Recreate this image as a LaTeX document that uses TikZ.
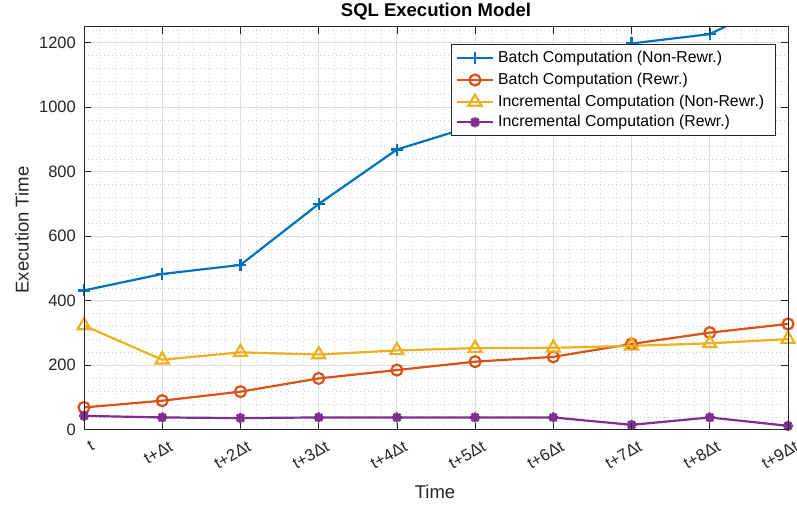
\documentclass[tikz,border=0pt]{standalone}
\usepackage{fontspec}
\setmainfont{Liberation Sans}
\usetikzlibrary{plotmarks}

\definecolor{cblue}{rgb}{0,0.447,0.741}
\definecolor{corange}{rgb}{0.85,0.325,0.098}
\definecolor{cyellow}{rgb}{0.929,0.694,0.125}
\definecolor{cpurple}{rgb}{0.494,0.184,0.556}
\definecolor{axcol}{rgb}{0.15,0.15,0.15}
\definecolor{gridmajor}{HTML}{DEDEDE}
\definecolor{gridminor}{HTML}{D2D2D2}

% eight-spoke asterisk
\pgfdeclareplotmark{ast8}{%
  \pgfpathmoveto{\pgfqpoint{-\pgfplotmarksize}{0pt}}%
  \pgfpathlineto{\pgfqpoint{\pgfplotmarksize}{0pt}}%
  \pgfpathmoveto{\pgfqpoint{0pt}{-\pgfplotmarksize}}%
  \pgfpathlineto{\pgfqpoint{0pt}{\pgfplotmarksize}}%
  \pgfpathmoveto{\pgfqpoint{-0.707\pgfplotmarksize}{-0.707\pgfplotmarksize}}%
  \pgfpathlineto{\pgfqpoint{0.707\pgfplotmarksize}{0.707\pgfplotmarksize}}%
  \pgfpathmoveto{\pgfqpoint{-0.707\pgfplotmarksize}{0.707\pgfplotmarksize}}%
  \pgfpathlineto{\pgfqpoint{0.707\pgfplotmarksize}{-0.707\pgfplotmarksize}}%
  \pgfusepathqstroke}

\tikzset{
  series/.style={line width=2.2pt, line join=round},
  mkblue/.style={cblue, line width=2.2pt, mark=+, mark size=6pt},
  mkorange/.style={corange, line width=2.2pt, mark=o, mark size=5.5pt},
  mkyellow/.style={cyellow, line width=2.2pt, mark=triangle, mark size=7.5pt},
  mkpurple/.style={cpurple, line width=2.6pt, mark=ast8, mark size=5pt},
  majorgrid/.style={gridmajor, line width=0.9pt},
  minorgrid/.style={gridminor, line width=0.5pt, dash pattern=on 1pt off 3pt},
  tickmark/.style={axcol, line width=0.7pt},
  ticklabel/.style={text=axcol, font=\fontsize{16.5}{18}\selectfont, inner sep=0pt},
}

\begin{document}
\begin{tikzpicture}[x=1pt,y=1pt]
\useasboundingbox (0,0) rectangle (797,509);
\fill[white] (0,0) rectangle (797,509);

% axes area: x index 0..9, y value 0..1250
\begin{scope}[shift={(84,79.3)}, x=78.222pt, y=0.32240pt]
  % minor grid
  \foreach \i in {0,...,8} \foreach \f in {0.2,0.4,0.6,0.8}
    \draw[minorgrid] (\i+\f,0) -- (\i+\f,1250);
  \foreach \v in {40,80,...,1240} {
    \pgfmathtruncatemacro{\r}{mod(\v,200)}
    \ifnum\r=0\relax\else\draw[minorgrid] (0,\v) -- (9,\v);\fi
  }
  % major grid
  \foreach \i in {1,...,8} \draw[majorgrid] (\i,0) -- (\i,1250);
  \foreach \v in {200,400,...,1200} \draw[majorgrid] (0,\v) -- (9,\v);

  % data lines
  \begin{scope}
    \clip (0,0) rectangle (9,1250);
    \draw[series, cblue] plot coordinates {(0,432) (1,483) (2,511) (3,700) (4,869) (5,944) (6,1080) (7,1198) (8,1227) (9,1345)};
    \draw[series, corange] plot coordinates {(0,69) (1,90) (2,118) (3,159) (4,185) (5,211) (6,226) (7,266) (8,301) (9,328)};
    \draw[series, cyellow] plot coordinates {(0,323) (1,217) (2,240) (3,233) (4,246) (5,253) (6,254) (7,260) (8,268) (9,281)};
    \draw[series, cpurple] plot coordinates {(0,43) (1,38) (2,36) (3,38) (4,38) (5,38) (6,38) (7,15) (8,38) (9,12)};
  \end{scope}

  % data markers
  \draw[mkblue] plot[only marks] coordinates {(0,432) (1,483) (2,511) (3,700) (4,869) (5,944) (6,1080) (7,1198) (8,1227)};
  \draw[mkorange] plot[only marks] coordinates {(0,69) (1,90) (2,118) (3,159) (4,185) (5,211) (6,226) (7,266) (8,301) (9,328)};
  \draw[mkyellow] plot[only marks] coordinates {(0,323) (1,217) (2,240) (3,233) (4,246) (5,253) (6,254) (7,260) (8,268) (9,281)};
  \draw[mkpurple] plot[only marks] coordinates {(0,43) (1,38) (2,36) (3,38) (4,38) (5,38) (6,38) (7,15) (8,38) (9,12)};

  % axes box and ticks
  \draw[tickmark] (0,0) rectangle (9,1250);
  \foreach \i in {0,...,9} {
    \draw[tickmark] (\i,0) -- ++(0pt,7pt);
    \draw[tickmark] (\i,1250) -- ++(0pt,-7pt);
  }
  \foreach \v in {0,200,...,1200} {
    \draw[tickmark] (0,\v) -- ++(7pt,0pt);
    \draw[tickmark] (9,\v) -- ++(-7pt,0pt);
    \node[ticklabel, anchor=east] at ([xshift=-8pt]0,\v) {\v};
  }
  % x tick labels
  \foreach \i/\lab in {0/t, 1/t+Δt, 2/t+2Δt, 3/t+3Δt, 4/t+4Δt,
                       5/t+5Δt, 6/t+6Δt, 7/t+7Δt, 8/t+8Δt, 9/t+9Δt}
    \path (\i,0) ++(6pt,-10pt) node[ticklabel, anchor=north east, rotate=30] {\lab};
\end{scope}

% titles
\node[text=black, font=\fontsize{18.5}{20}\selectfont\bfseries] (title) at (436,497) {SQL Execution Model};
\node[text=axcol, font=\fontsize{18.5}{20}\selectfont] (xlabel) at (435,17) {Time};
\node[text=axcol, font=\fontsize{18.5}{20}\selectfont, rotate=90] (ylabel) at (22,279) {Execution Time};

% legend
\draw[fill=white, draw=axcol, line width=0.6pt] (451.7,374) rectangle (775,465);
\foreach \yy/\sty/\txt in {450.7/mkblue/Batch Computation (Non-Rewr.),
                           429/mkorange/Batch Computation (Rewr.),
                           407/mkyellow/Incremental Computation (Non-Rewr.),
                           386.7/mkpurple/Incremental Computation (Rewr.)} {
  \draw[\sty, series] (456.7,\yy) -- (493.3,\yy);
  \draw[\sty] plot[only marks] coordinates {(475,\yy)};
  \node[anchor=west, inner sep=0pt, text=black, font=\fontsize{15.8}{17}\selectfont] at (498,\yy) {\txt};
}
\end{tikzpicture}
\end{document}
